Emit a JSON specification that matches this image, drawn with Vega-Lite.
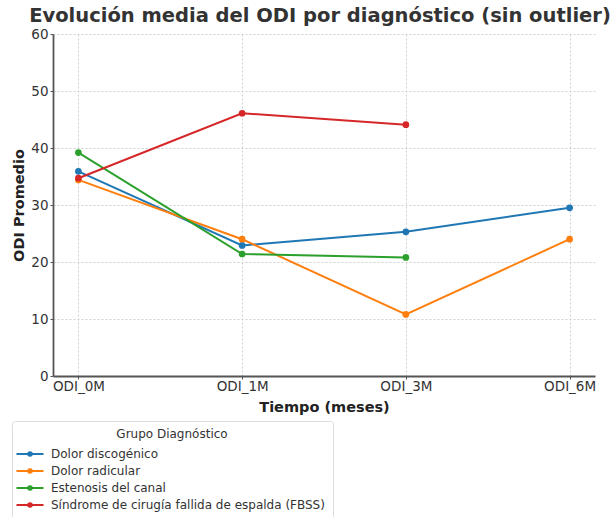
{
  "$schema": "https://vega.github.io/schema/vega-lite/v6.json",
  "width": 542,
  "height": 342,
  "autosize": {"type": "none"},
  "padding": {"left": 53, "top": 34, "right": 19, "bottom": 141},
  "background": "white",
  "title": {
    "text": "Evolución media del ODI por diagnóstico (sin outlier)",
    "font": "DejaVu Sans",
    "fontSize": 19.5,
    "fontWeight": "bold",
    "color": "#333333",
    "anchor": "middle",
    "offset": 1,
    "dx": -4
  },
  "data": {
    "values": [
      {"t": "ODI_0M", "g": "Dolor discogénico", "v": 35.9},
      {"t": "ODI_1M", "g": "Dolor discogénico", "v": 22.9},
      {"t": "ODI_3M", "g": "Dolor discogénico", "v": 25.3},
      {"t": "ODI_6M", "g": "Dolor discogénico", "v": 29.5},
      {"t": "ODI_0M", "g": "Dolor radicular", "v": 34.4},
      {"t": "ODI_1M", "g": "Dolor radicular", "v": 24.0},
      {"t": "ODI_3M", "g": "Dolor radicular", "v": 10.8},
      {"t": "ODI_6M", "g": "Dolor radicular", "v": 24.0},
      {"t": "ODI_0M", "g": "Estenosis del canal", "v": 39.2},
      {"t": "ODI_1M", "g": "Estenosis del canal", "v": 21.4},
      {"t": "ODI_3M", "g": "Estenosis del canal", "v": 20.8},
      {"t": "ODI_0M", "g": "Síndrome de cirugía fallida de espalda (FBSS)", "v": 34.7},
      {"t": "ODI_1M", "g": "Síndrome de cirugía fallida de espalda (FBSS)", "v": 46.1},
      {"t": "ODI_3M", "g": "Síndrome de cirugía fallida de espalda (FBSS)", "v": 44.1}
    ]
  },
  "mark": {
    "type": "line",
    "strokeWidth": 2,
    "point": {"filled": true, "size": 45, "opacity": 1}
  },
  "encoding": {
    "x": {
      "field": "t",
      "type": "ordinal",
      "sort": ["ODI_0M", "ODI_1M", "ODI_3M", "ODI_6M"],
      "scale": {"type": "point", "padding": 0.155},
      "axis": {
        "title": "Tiempo (meses)",
        "labelAngle": 0,
        "grid": true,
        "gridDash": [2, 2],
        "gridColor": "#d0d0d0",
        "domainColor": "#555555",
        "domainWidth": 1.8,
        "tickColor": "#555555",
        "tickSize": 3,
        "labelFont": "DejaVu Sans",
        "labelFontSize": 13.5,
        "labelColor": "#333333",
        "labelPadding": 0,
        "titleFont": "DejaVu Sans",
        "titleFontSize": 14.5,
        "titleFontWeight": "bold",
        "titleColor": "#222222",
        "titlePadding": 8
      }
    },
    "y": {
      "field": "v",
      "type": "quantitative",
      "scale": {"domain": [0, 60], "nice": false},
      "axis": {
        "title": "ODI Promedio",
        "values": [0, 10, 20, 30, 40, 50, 60],
        "grid": true,
        "gridDash": [2, 2],
        "gridColor": "#d0d0d0",
        "domainColor": "#555555",
        "domainWidth": 1.8,
        "tickColor": "#555555",
        "tickSize": 3,
        "labelFont": "DejaVu Sans",
        "labelFontSize": 13.5,
        "labelColor": "#333333",
        "labelPadding": 2,
        "titleFont": "DejaVu Sans",
        "titleFontSize": 14.5,
        "titleFontWeight": "bold",
        "titleColor": "#222222",
        "titlePadding": 4
      }
    },
    "color": {
      "field": "g",
      "type": "nominal",
      "scale": {
        "domain": ["Dolor discogénico", "Dolor radicular", "Estenosis del canal", "Síndrome de cirugía fallida de espalda (FBSS)"],
        "range": ["#1f77b4", "#ff7f0e", "#2ca02c", "#d62728"]
      },
      "legend": {
        "title": "Grupo Diagnóstico",
        "orient": "none",
        "legendX": -41,
        "legendY": 387,
        "direction": "vertical",
        "titleAnchor": "middle",
        "titleFont": "DejaVu Sans",
        "titleFontSize": 12,
        "titleFontWeight": "normal",
        "titleColor": "#333333",
        "titlePadding": 3,
        "labelFont": "DejaVu Sans",
        "labelFontSize": 12,
        "labelColor": "#333333",
        "labelOffset": 11,
        "labelLimit": 400,
        "symbolType": "M-1.5,0H1.5M-0.2,0A0.2,0.2 0 1,0 0.2,0A0.2,0.2 0 1,0 -0.2,0",
        "symbolSize": 324,
        "symbolStrokeWidth": 2,
        "rowPadding": 1,
        "padding": 8,
        "strokeColor": "#dddddd",
        "cornerRadius": 3,
        "fillColor": "white"
      }
    }
  },
  "config": {"view": {"stroke": null}}
}
